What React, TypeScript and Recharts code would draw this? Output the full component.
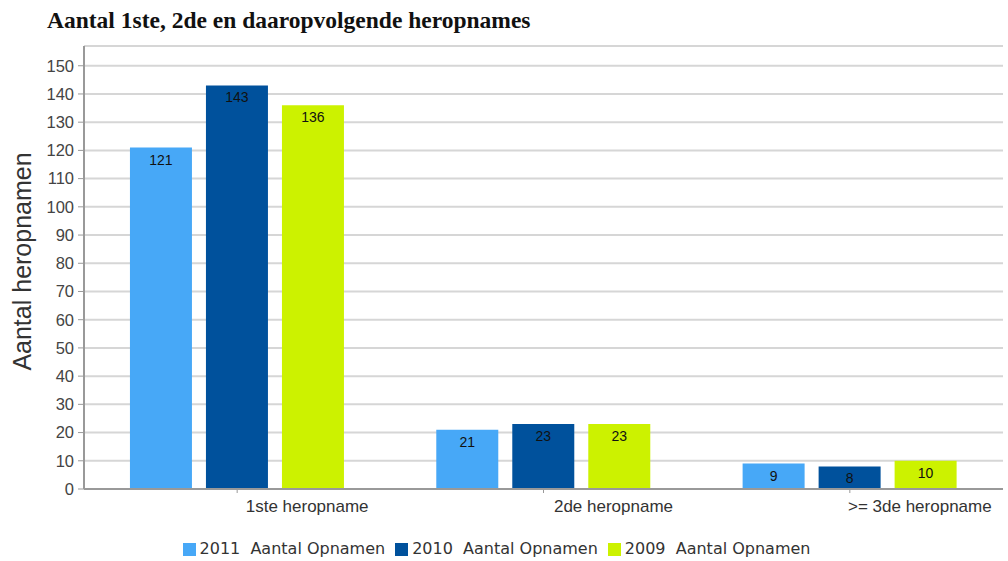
import React from "react";
import {
  BarChart,
  Bar,
  XAxis,
  YAxis,
  CartesianGrid,
  Legend,
  LabelList,
} from "recharts";

const categories = ["1ste heropname", "2de heropname", ">= 3de heropname"];
const values2011 = [121, 21, 9];
const values2010 = [143, 23, 8];
const values2009 = [136, 23, 10];
const yTicks = [0, 10, 20, 30, 40, 50, 60, 70, 80, 90, 100, 110, 120, 130, 140, 150];

const chartData = categories.map((name, i) => ({
  name,
  y2011: values2011[i],
  y2010: values2010[i],
  y2009: values2009[i],
}));

const axisFont = "'Liberation Sans', Arial, sans-serif";

const CategoryTick = (props: any) => {
  const { x, y, payload } = props;
  return (
    <text
      x={x + 70}
      y={y + 17}
      textAnchor="middle"
      fill="#333"
      fontSize={17}
      fontFamily={axisFont}
    >
      {payload.value}
    </text>
  );
};

const YLabel = (props: any) => {
  const { viewBox } = props;
  const cx = 22;
  const cy = viewBox.y + viewBox.height / 2 - 6;
  return (
    <text
      x={cx}
      y={cy}
      transform={`rotate(-90 ${cx} ${cy})`}
      textAnchor="middle"
      dominantBaseline="central"
      fill="#333"
      fontSize={25}
      fontFamily={axisFont}
    >
      Aantal heropnamen
    </text>
  );
};

const App: React.FC = () => {
  return (
    <div style={{ position: "absolute", left: 0, top: 0, width: 1008, height: 561, background: "#fff" }}>
      <div
        style={{
          position: "absolute",
          left: 47,
          top: 7,
          fontFamily: "'Liberation Serif', 'Times New Roman', serif",
          fontWeight: "bold",
          fontSize: 23.5,
          color: "#111",
          whiteSpace: "nowrap",
        }}
      >
        Aantal 1ste, 2de en daaropvolgende heropnames
      </div>
      <BarChart
        width={1008}
        height={561}
        data={chartData}
        margin={{ top: 46, right: 5, left: 0, bottom: 3 }}
        barCategoryGap="15%"
        barGap={14}
      >
        <CartesianGrid vertical={false} stroke="#d6d6d6" strokeWidth={2} />
        <XAxis
          dataKey="name"
          height={50}
          tick={<CategoryTick />}
          tickLine={{ stroke: "#999" }}
          tickSize={4}
          axisLine={{ stroke: "#999", strokeWidth: 2 }}
          interval={0}
        />
        <XAxis
          xAxisId="top"
          orientation="top"
          dataKey="name"
          height={0}
          tick={false}
          tickLine={false}
          axisLine={{ stroke: "#aaa", strokeWidth: 2 }}
        />
        <YAxis
          width={84}
          domain={[0, 157]}
          ticks={yTicks}
          interval={0}
          tickSize={6}
          tickMargin={4}
          tickLine={{ stroke: "#999" }}
          axisLine={{ stroke: "#999", strokeWidth: 2 }}
          tick={{ fill: "#444", fontSize: 16.5, fontFamily: axisFont }}
          label={<YLabel />}
        />
        <YAxis
          yAxisId="right"
          orientation="right"
          width={0}
          domain={[0, 157]}
          tick={false}
          tickLine={false}
          axisLine={{ stroke: "#999", strokeWidth: 2 }}
        />
        <Legend
          verticalAlign="bottom"
          iconType="square"
          iconSize={13}
          itemSorter={null as any}
          wrapperStyle={{ fontFamily: "'DejaVu Sans', Verdana, sans-serif", fontSize: 16, color: "#333" }}
          formatter={(value) => <span style={{ color: "#333", whiteSpace: "pre" }}>{value}</span>}
        />
        <Bar dataKey="y2011" name="2011  Aantal Opnamen" fill="#47a8f7" isAnimationActive={false}>
          <LabelList dataKey="y2011" position="insideTop" offset={7} fill="#111" fontSize={14} fontFamily={axisFont} />
        </Bar>
        <Bar dataKey="y2010" name="2010  Aantal Opnamen" fill="#00519c" isAnimationActive={false}>
          <LabelList dataKey="y2010" position="insideTop" offset={7} fill="#111" fontSize={14} fontFamily={axisFont} />
        </Bar>
        <Bar dataKey="y2009" name="2009  Aantal Opnamen" fill="#ccf200" isAnimationActive={false}>
          <LabelList dataKey="y2009" position="insideTop" offset={7} fill="#111" fontSize={14} fontFamily={axisFont} />
        </Bar>
      </BarChart>
    </div>
  );
};

export default App;
